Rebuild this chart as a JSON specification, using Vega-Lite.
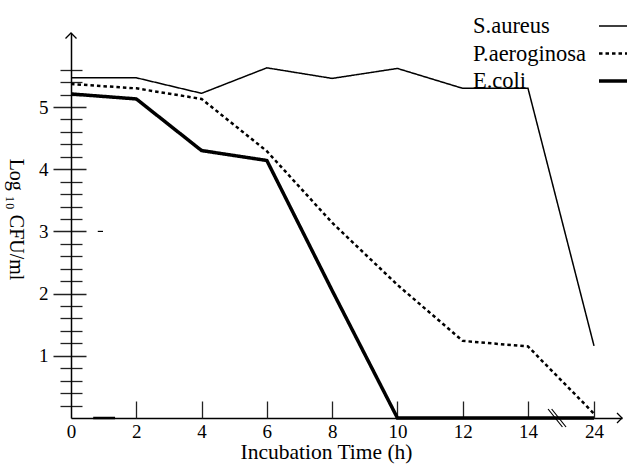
{
  "$schema": "https://vega.github.io/schema/vega-lite/v6.json",
  "width": 551,
  "height": 385,
  "autosize": {"type": "none"},
  "padding": {"left": 71, "top": 33, "right": 5, "bottom": 47},
  "background": "white",
  "config": {
    "view": {"stroke": null},
    "font": "Liberation Serif",
    "axis": {"grid": false, "domainColor": "black", "tickColor": "#222", "labelColor": "black", "titleColor": "black", "labelFont": "Liberation Serif", "titleFont": "Liberation Serif", "titleFontWeight": "normal"},
    "legend": {"labelFont": "Liberation Serif", "labelColor": "black"}
  },
  "datasets": {
    "cfu": [
      {"species": "S.aureus", "hour": 0, "log": 5.47},
      {"species": "S.aureus", "hour": 2, "log": 5.47},
      {"species": "S.aureus", "hour": 4, "log": 5.22},
      {"species": "S.aureus", "hour": 6, "log": 5.63},
      {"species": "S.aureus", "hour": 8, "log": 5.46},
      {"species": "S.aureus", "hour": 10, "log": 5.62},
      {"species": "S.aureus", "hour": 12, "log": 5.3},
      {"species": "S.aureus", "hour": 14, "log": 5.3},
      {"species": "S.aureus", "hour": 24, "log": 1.16},
      {"species": "P.aeroginosa", "hour": 0, "log": 5.37},
      {"species": "P.aeroginosa", "hour": 2, "log": 5.3},
      {"species": "P.aeroginosa", "hour": 4, "log": 5.13},
      {"species": "P.aeroginosa", "hour": 6, "log": 4.29},
      {"species": "P.aeroginosa", "hour": 8, "log": 3.14},
      {"species": "P.aeroginosa", "hour": 10, "log": 2.14},
      {"species": "P.aeroginosa", "hour": 12, "log": 1.24},
      {"species": "P.aeroginosa", "hour": 14, "log": 1.15},
      {"species": "P.aeroginosa", "hour": 24, "log": 0.07},
      {"species": "E.coli", "hour": 0, "log": 5.21},
      {"species": "E.coli", "hour": 2, "log": 5.13},
      {"species": "E.coli", "hour": 4, "log": 4.3},
      {"species": "E.coli", "hour": 6, "log": 4.14},
      {"species": "E.coli", "hour": 8, "log": 2.05},
      {"species": "E.coli", "hour": 10, "log": 0},
      {"species": "E.coli", "hour": 12, "log": 0},
      {"species": "E.coli", "hour": 14, "log": 0},
      {"species": "E.coli", "hour": 24, "log": 0}
    ]
  },
  "resolve": {"axis": {"x": "independent", "y": "independent"}},
  "layer": [
    {
      "data": {"name": "cfu"},
      "mark": {"type": "line", "color": "black", "strokeJoin": "miter"},
      "encoding": {
        "x": {
          "field": "hour", "type": "quantitative",
          "scale": {"type": "linear", "domain": [0, 14, 28.24], "range": [0, 457, 551], "nice": false, "zero": false},
          "axis": {
            "orient": "bottom",
            "values": [0, 2, 4, 6, 8, 10, 12, 14, 24],
            "ticks": false, "tickSize": 0, "labelPadding": 19, "labelBaseline": "alphabetic",
            "labelFontSize": 19, "labelFlush": false, "labelAngle": 0, "labelOverlap": false,
            "domainWidth": 1.5,
            "title": "Incubation Time (h)", "titleFontSize": 21.5, "titleX": 255, "titleY": 40,
            "titleBaseline": "alphabetic", "titleAlign": "center",
            "encoding": {"labels": {"update": {"dy": {"signal": "datum.value === 14 ? 3 : 0"}}}}
          }
        },
        "y": {
          "field": "log", "type": "quantitative",
          "scale": {"domain": [0, 6.19], "nice": false, "zero": true},
          "axis": {
            "orient": "left",
            "values": [1, 2, 3, 4, 5], "offset": -15, "tickSize": 33, "tickWidth": 1.5,
            "labelPadding": 5, "labelFontSize": 19, "domain": false, "title": null
          }
        },
        "strokeDash": {
          "field": "species", "type": "nominal",
          "scale": {"domain": ["S.aureus", "P.aeroginosa", "E.coli"], "range": [[1, 0], [3.5, 3], [1, 0]]},
          "legend": {"orient": "none", "legendX": 526, "legendY": -22, "title": null, "symbolType": "stroke", "symbolSize": 784, "symbolStrokeColor": "black", "labelFontSize": 22.5, "labelOffset": -156, "labelAlign": "left", "rowPadding": -4, "labelLimit": 300}
        },
        "strokeWidth": {
          "field": "species", "type": "nominal",
          "scale": {"domain": ["S.aureus", "P.aeroginosa", "E.coli"], "range": [1.5, 3.5, 3.8]},
          "legend": {"orient": "none", "legendX": 526, "legendY": -22, "title": null, "symbolType": "stroke", "symbolSize": 784, "symbolStrokeColor": "black", "labelFontSize": 22.5, "labelOffset": -156, "labelAlign": "left", "rowPadding": -4, "labelLimit": 300}
        }
      }
    },
    {
      "data": {"name": "cfu"},
      "mark": {"type": "line", "opacity": 0},
      "encoding": {
        "x": {
          "field": "hour", "type": "quantitative",
          "scale": {"type": "linear", "domain": [0, 14, 28.24], "range": [0, 457, 551], "nice": false, "zero": false},
          "axis": {"orient": "bottom", "values": [2, 4, 6, 8, 10, 12, 14, 24], "offset": -17, "tickSize": 17, "tickWidth": 1.3, "labels": false, "domain": false, "title": null}
        },
        "y": {
          "field": "log", "type": "quantitative",
          "scale": {"domain": [0, 6.19], "nice": false, "zero": true},
          "axis": {"orient": "left", "values": [0.2, 0.4, 0.6, 0.8, 1.2, 1.4, 1.6, 1.8, 2.2, 2.4, 2.6, 2.8, 3.2, 3.4, 3.6, 3.8, 4.2, 4.4, 4.6, 4.8, 5.2, 5.4, 5.6], "offset": -11, "tickSize": 22, "tickWidth": 1.3, "labels": false, "domain": false, "title": null}
        }
      }
    },
    {
      "data": {"name": "cfu"},
      "mark": {"type": "line", "opacity": 0},
      "encoding": {
        "x": {"field": "hour", "type": "quantitative", "axis": null},
        "y": {
          "field": "log", "type": "quantitative",
          "axis": {"orient": "left", "ticks": false, "labels": false, "domain": true, "domainWidth": 1.5, "title": "Log ₁₀ CFU/ml", "titleAngle": 90, "titleX": -56, "titleY": 186, "titleAlign": "center", "titleBaseline": "middle", "titleFontSize": 20}
        }
      }
    },
    {
      "data": {"values": [{}]},
      "mark": {"type": "point", "shape": "M-1,1L0,0L1,1", "filled": false, "stroke": "black", "strokeWidth": 1.3, "size": 121, "opacity": 1},
      "encoding": {
        "x": {"datum": 0, "type": "quantitative", "axis": null},
        "y": {"datum": 6.19, "type": "quantitative", "axis": null}
      }
    },
    {
      "data": {"values": [{}]},
      "mark": {"type": "point", "shape": "M-1,-1L0,0L-1,1", "filled": false, "stroke": "black", "strokeWidth": 1.3, "size": 100, "opacity": 1},
      "encoding": {
        "x": {"datum": 28.24, "type": "quantitative", "axis": null},
        "y": {"datum": 0, "type": "quantitative", "axis": null}
      }
    },
    {
      "data": {"values": [{}]},
      "mark": {"type": "point", "shape": "M-1,-1L0.6,1M-0.6,-1L1,1", "filled": false, "stroke": "black", "strokeWidth": 1.2, "size": 324, "opacity": 1},
      "encoding": {
        "x": {"datum": 18.4, "type": "quantitative", "axis": null},
        "y": {"datum": 0, "type": "quantitative", "axis": null}
      }
    },
    {
      "data": {"values": [{}]},
      "mark": {"type": "rule", "color": "black", "strokeWidth": 1.2},
      "encoding": {
        "x": {"datum": 0.82, "type": "quantitative", "axis": null},
        "x2": {"datum": 0.98},
        "y": {"datum": 3, "type": "quantitative", "axis": null}
      }
    },
    {
      "data": {"values": [{}]},
      "mark": {"type": "rule", "color": "black", "strokeWidth": 2.5},
      "encoding": {
        "x": {"datum": 0.68, "type": "quantitative", "axis": null},
        "x2": {"datum": 1.35},
        "y": {"datum": 0, "type": "quantitative", "axis": null}
      }
    }
  ]
}
